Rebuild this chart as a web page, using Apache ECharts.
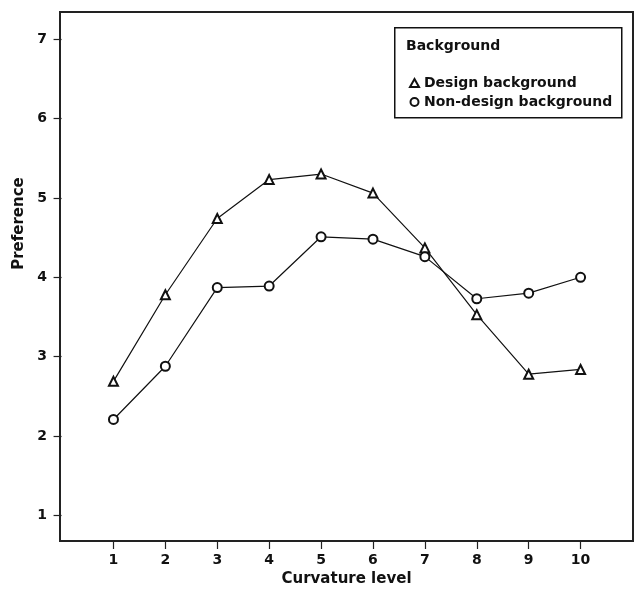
<!DOCTYPE html>
<html>
<head>
<meta charset="utf-8">
<script src="https://cdn.jsdelivr.net/npm/echarts@6/dist/echarts.min.js"></script>
<style>
  html, body { margin: 0; padding: 0; background: #fff; }
  #chart { width: 635px; height: 592px; }
</style>
</head>
<body>
<div id="chart"></div>
<script>
// curvature levels on the x axis
const levels = [1, 2, 3, 4, 5, 6, 7, 8, 9, 10]
const yTicks = [1, 2, 3, 4, 5, 6, 7]
// mean preference
const designBg = [2.69, 3.78, 4.74, 5.23, 5.30, 5.06, 4.37, 3.53, 2.78, 2.84]
const nonDesignBg = [2.21, 2.88, 3.87, 3.89, 4.51, 4.48, 4.26, 3.73, 3.80, 4.00]

const font = 'DejaVu Sans'
const ink = '#111'

const chart = echarts.init(document.getElementById('chart'))

const toPairs = vals => levels.map((x, i) => [x, vals[i]])

chart.setOption({
  animation: false,
  backgroundColor: '#fff',
  grid: {
    left: 60, right: 2, top: 12, bottom: 50,
    show: true, borderColor: '#222', borderWidth: 2
  },
  xAxis: {
    type: 'value',
    min: -0.03, max: 11.01,
    splitLine: { show: false },
    axisLine: { show: false },
    axisTick: { show: true, length: 8, lineStyle: { color: '#222', width: 1.2 }, customValues: levels },
    axisLabel: { margin: 12, color: ink, fontFamily: font, fontWeight: 'bold', fontSize: 14, customValues: levels },
    name: 'Curvature level',
    nameLocation: 'middle',
    nameGap: 31,
    nameTextStyle: { color: ink, fontFamily: font, fontWeight: 'bold', fontSize: 15 }
  },
  yAxis: {
    type: 'value',
    min: 0.68, max: 7.34,
    splitLine: { show: false },
    axisLine: { show: false },
    axisTick: { show: true, length: 8, lineStyle: { color: '#222', width: 1.2 }, customValues: yTicks },
    axisLabel: { margin: 13, color: ink, fontFamily: font, fontWeight: 'bold', fontSize: 14, customValues: yTicks }
  },
  legend: {
    orient: 'vertical',
    left: 404, top: 71,
    itemWidth: 9, itemHeight: 8, itemGap: 5,
    textStyle: { color: ink, fontFamily: font, fontWeight: 'bold', fontSize: 14 },
    data: [
      { name: 'Design background', icon: 'emptyTriangle' },
      { name: 'Non-design background', icon: 'emptyCircle' }
    ]
  },
  graphic: [
    {
      type: 'rect', left: 394, top: 27, z: 1,
      shape: { width: 227, height: 90 },
      style: { fill: '#fff', stroke: '#111', lineWidth: 1.5 }
    },
    {
      type: 'text', left: 406, top: 39, z: 2,
      style: { text: 'Background', fill: ink, font: 'bold 14px "DejaVu Sans"' }
    },
    {
      type: 'text', x: 19, y: 223.5, rotation: Math.PI / 2, z: 2,
      style: { text: 'Preference', fill: ink, font: 'bold 15px "DejaVu Sans"', align: 'center', verticalAlign: 'middle' }
    }
  ],
  series: [
    {
      name: 'Design background',
      type: 'line',
      data: toPairs(designBg),
      symbol: 'emptyTriangle',
      symbolSize: 9,
      lineStyle: { color: ink, width: 1.2 },
      itemStyle: { color: ink, borderWidth: 1 }
    },
    {
      name: 'Non-design background',
      type: 'line',
      data: toPairs(nonDesignBg),
      symbol: 'emptyCircle',
      symbolSize: 9,
      lineStyle: { color: ink, width: 1.2 },
      itemStyle: { color: ink, borderWidth: 1 }
    }
  ]
})
</script>
</body>
</html>
